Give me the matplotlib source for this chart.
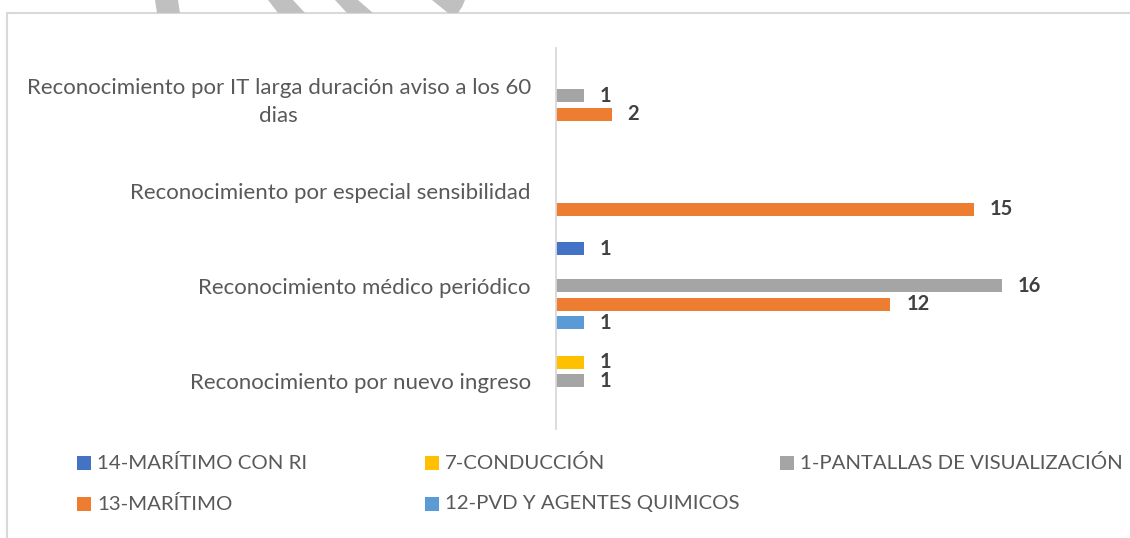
import matplotlib
matplotlib.use("Agg")
import matplotlib.pyplot as plt
from matplotlib.patches import Rectangle, Polygon

plt.rcParams['font.family'] = ['Lato', 'DejaVu Sans']

categories = [
    "Reconocimiento por IT larga duración aviso a los 60\ndias",
    "Reconocimiento por especial sensibilidad",
    "Reconocimiento médico periódico",
    "Reconocimiento por nuevo ingreso",
]
series_names = [
    "14-MARÍTIMO CON RI",
    "7-CONDUCCIÓN",
    "1-PANTALLAS DE VISUALIZACIÓN",
    "13-MARÍTIMO",
    "12-PVD Y AGENTES QUIMICOS",
]
maritimo_con_ri = [0, 0, 1, 0]
conduccion = [0, 0, 0, 1]
pantallas = [1, 0, 16, 1]
maritimo = [2, 15, 12, 0]
pvd_quimicos = [0, 0, 1, 0]
series_values = [maritimo_con_ri, conduccion, pantallas, maritimo, pvd_quimicos]
colors = ["#4472C4", "#FFC000", "#A5A5A5", "#ED7D31", "#5B9BD5"]

W, H = 1130, 538
fig = plt.figure(figsize=(W / 100, H / 100), dpi=100)

def fx(px):
    return px / W

def fy(py):
    return 1 - py / H

# chart border
fig.patches.append(Rectangle((fx(7), fy(545)), fx(1140) - fx(7), fy(13) - fy(545),
                             transform=fig.transFigure, fill=False,
                             edgecolor="#d9d9d9", linewidth=1.5))
# watermark fragments
wm = [
    [(155, 0), (178, 0), (180, 13), (157, 13)],
    [(268, 0), (293, 0), (305, 13), (278, 13)],
    [(335, 0), (358, 0), (373, 13), (347, 13)],
    [(432, 0), (465, 0), (462, 7), (458, 13), (448, 13)],
]
for poly in wm:
    fig.patches.append(Polygon([(fx(x), fy(y)) for x, y in poly], closed=True,
                               transform=fig.transFigure, facecolor="#c0c0c0",
                               edgecolor="none"))

ax = fig.add_axes([fx(556), fy(428.5), fx(1113) - fx(556), fy(48) - fy(428.5)])
n = len(series_names)
step = 0.195
bh = 0.137
for i, (vals, c) in enumerate(zip(series_values, colors)):
    for k, v in enumerate(vals):
        if v == 0:
            continue
        y = k + (i - (n - 1) / 2) * step
        ax.barh(y, v, height=bh, color=c)
        ax.annotate(str(v), xy=(v, y), xytext=(16, 0), textcoords="offset pixels",
                    ha="left", va="center", fontsize=14.5, fontweight="bold",
                    color="#404040")

ax.set_xlim(0, 20)
ax.set_ylim(len(categories) - 0.5, -0.5)
ax.set_yticks(range(len(categories)))
ax.set_yticklabels(categories, fontsize=16, color="#595959", linespacing=1.5)
for t in ax.get_yticklabels():
    t.set_multialignment("center")
ax.tick_params(axis="y", length=0, pad=18)
ax.set_xticks([])
for s in ["top", "right", "bottom"]:
    ax.spines[s].set_visible(False)
ax.spines["left"].set_color("#d9d9d9")
ax.spines["left"].set_linewidth(1.3)

# legend
legend_pos = [(77, 463), (425, 463), (780, 463), (77, 504), (425, 504)]
for name, c, (lx, ly) in zip(series_names, colors, legend_pos):
    fig.patches.append(Rectangle((fx(lx), fy(ly + 7)), fx(14), 14 / H,
                                 transform=fig.transFigure, facecolor=c,
                                 edgecolor="none"))
    fig.text(fx(lx + 20), fy(ly), name, ha="left", va="center", fontsize=14.7,
             color="#595959")

fig.savefig("out.png", dpi=100)
